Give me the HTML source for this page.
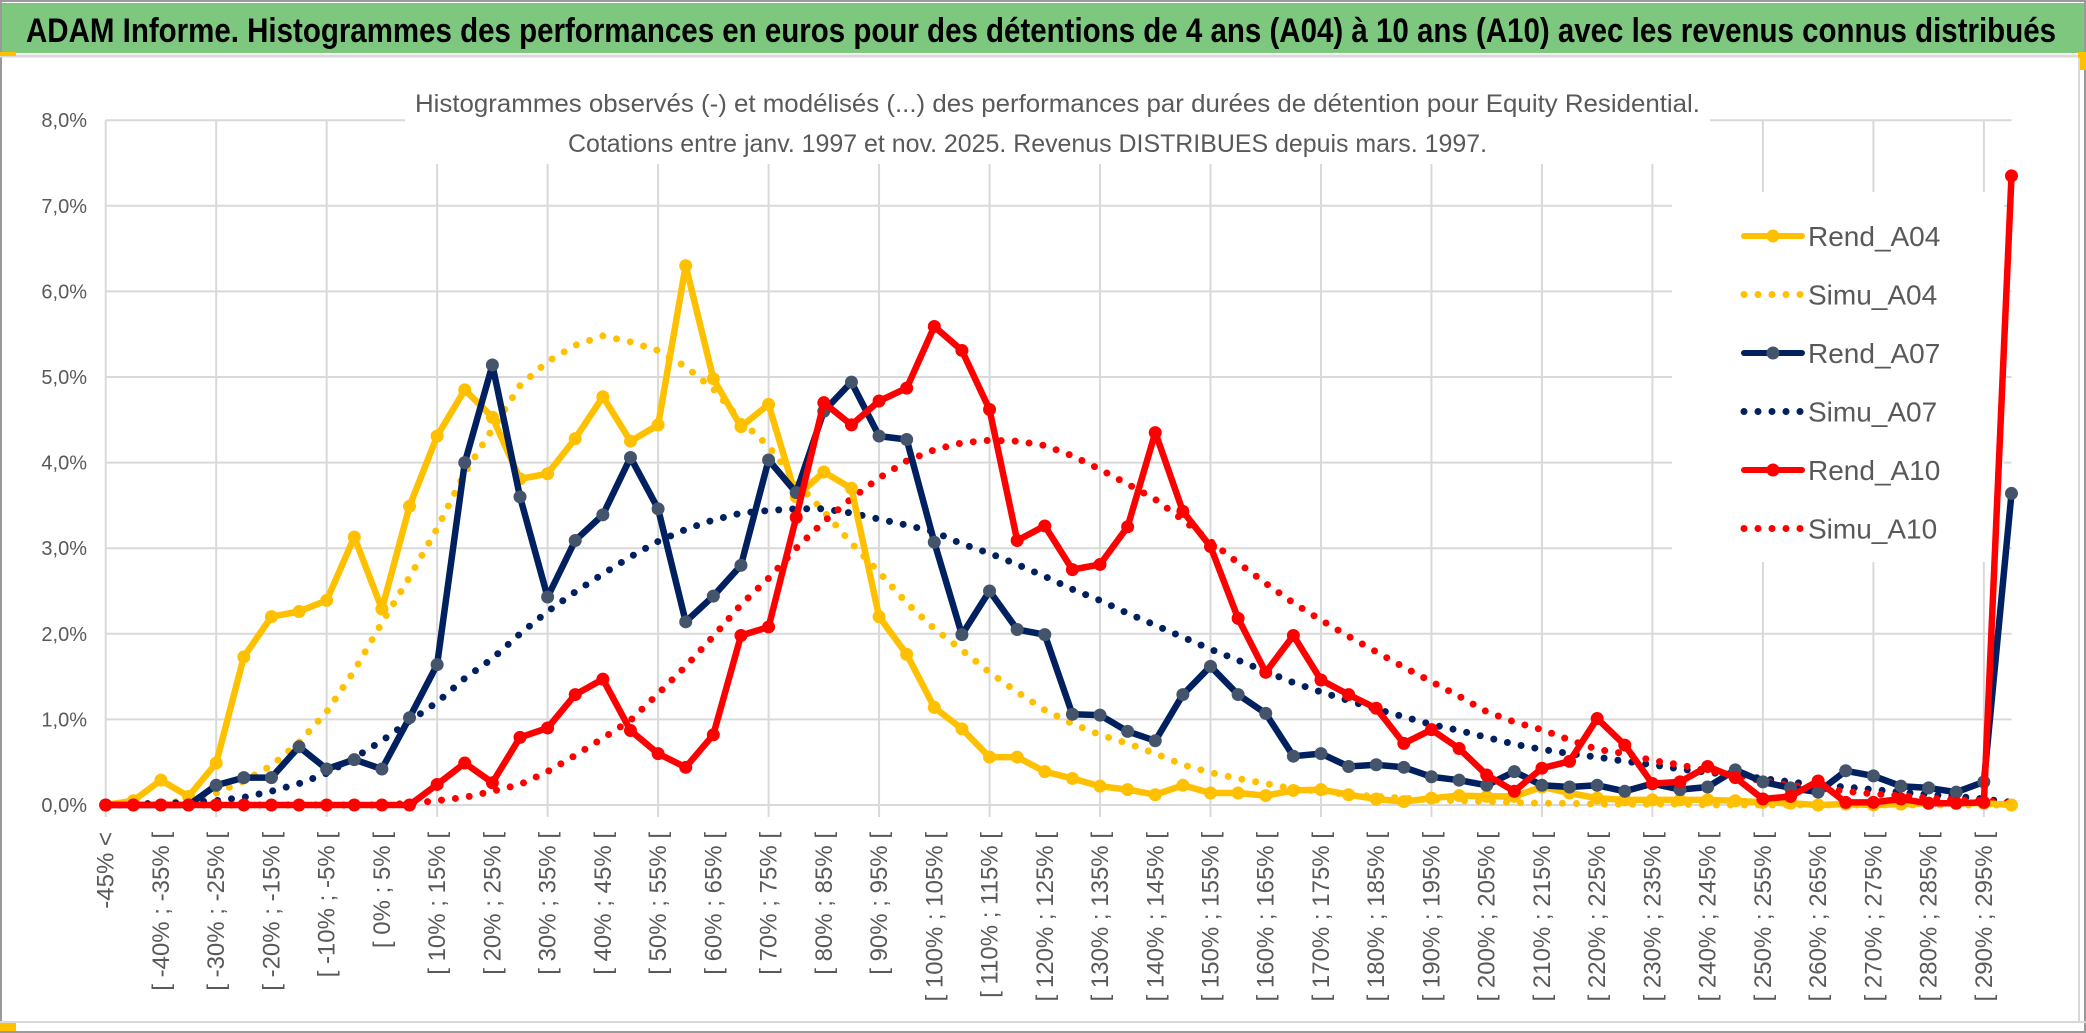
<!DOCTYPE html>
<html><head><meta charset="utf-8"><style>
html,body{margin:0;padding:0;background:#fff;}
svg{display:block;font-family:"Liberation Sans",sans-serif;}
</style></head><body>
<svg id="chart" width="2086" height="1033" viewBox="0 0 2086 1033" xmlns="http://www.w3.org/2000/svg">
<rect x="0" y="0" width="2086" height="1033" fill="#fff"/>
<rect x="1" y="1" width="2084" height="1031" fill="none" stroke="#9a9a9a" stroke-width="2"/>
<rect x="2" y="3" width="2082" height="50" fill="#7DC77F"/>
<line x1="0" y1="56" x2="2086" y2="56" stroke="#d9d9d9" stroke-width="3"/>
<rect x="0" y="52" width="16" height="4" fill="#FFC000"/>
<rect x="2078" y="52" width="8" height="18" fill="#FFC000"/>
<line x1="0" y1="1022" x2="2086" y2="1022" stroke="#d9d9d9" stroke-width="2"/>
<rect x="0" y="1023" width="16" height="8" fill="#FFC000"/>
<line x1="2079" y1="58" x2="2079" y2="1022" stroke="#d9d9d9" stroke-width="2"/>
<text x="26" y="42" font-size="34" font-weight="bold" fill="#000" textLength="2030" lengthAdjust="spacingAndGlyphs">ADAM Informe. Histogrammes des performances en euros pour des détentions de 4 ans (A04) à 10 ans (A10) avec les revenus connus distribués</text>
<g id="grid"></g>
<rect x="405" y="82" width="1305" height="82" fill="#fff"/>
<text x="415" y="112" font-size="25" fill="#595959" textLength="1285" lengthAdjust="spacingAndGlyphs">Histogrammes observés (-) et modélisés (...) des performances par durées de détention pour Equity Residential.</text>
<text x="568" y="152" font-size="25" fill="#595959" textLength="919" lengthAdjust="spacingAndGlyphs">Cotations entre janv. 1997 et nov. 2025. Revenus DISTRIBUES depuis mars. 1997.</text>
<g id="yaxis"></g>
<g id="xaxis"></g>
<rect x="1672" y="192" width="332" height="370" fill="#fff"/>
<g id="series"></g>
<g id="legend"></g>
</svg>
<script>
const rendA04=[0,0.05,0.29,0.1,0.49,1.73,2.2,2.26,2.39,3.13,2.29,3.49,4.31,4.85,4.53,3.81,3.87,4.28,4.77,4.25,4.44,6.3,4.98,4.42,4.68,3.6,3.89,3.7,2.2,1.76,1.14,0.89,0.56,0.56,0.39,0.31,0.22,0.18,0.12,0.23,0.14,0.14,0.11,0.17,0.18,0.12,0.07,0.04,0.08,0.11,0.1,0.1,0.21,0.14,0.08,0.06,0.06,0.06,0.06,0.05,0.03,0.02,0,0.01,0,0.01,0.02,0.02,0.02,0];
const simuA04=[0,0.01,0.02,0.05,0.14,0.28,0.46,0.73,1.09,1.57,2.13,2.66,3.23,3.88,4.39,4.9,5.18,5.37,5.48,5.41,5.31,5.12,4.86,4.49,4.19,3.77,3.43,3.06,2.72,2.36,2.06,1.81,1.55,1.32,1.11,0.95,0.82,0.72,0.6,0.47,0.38,0.31,0.25,0.19,0.16,0.12,0.1,0.08,0.06,0.05,0.04,0.03,0.02,0.02,0.01,0.01,0.01,0.01,0,0,0,0,0,0,0,0,0,0,0,0];
const rendA07=[0,0,0,0,0.23,0.32,0.32,0.68,0.42,0.53,0.42,1.02,1.64,4.0,5.14,3.6,2.43,3.09,3.39,4.06,3.46,2.14,2.44,2.8,4.03,3.65,4.6,4.94,4.31,4.27,3.07,1.99,2.5,2.05,1.99,1.06,1.05,0.86,0.75,1.29,1.62,1.29,1.07,0.57,0.6,0.45,0.47,0.44,0.33,0.29,0.23,0.39,0.23,0.21,0.23,0.16,0.25,0.18,0.21,0.41,0.27,0.2,0.15,0.4,0.34,0.22,0.2,0.15,0.27,3.64];
const simuA07=[0,0.01,0.02,0.03,0.05,0.09,0.16,0.25,0.37,0.55,0.75,0.98,1.2,1.48,1.71,2.0,2.26,2.49,2.7,2.9,3.08,3.22,3.33,3.41,3.44,3.46,3.46,3.41,3.34,3.27,3.19,3.05,2.94,2.81,2.67,2.52,2.39,2.24,2.1,1.96,1.82,1.69,1.56,1.43,1.32,1.22,1.12,1.03,0.94,0.87,0.79,0.71,0.65,0.6,0.56,0.51,0.47,0.42,0.38,0.35,0.31,0.27,0.23,0.21,0.18,0.15,0.12,0.1,0.07,0.03];
const rendA10=[0,0,0,0,0,0,0,0,0,0,0,0,0.24,0.49,0.26,0.79,0.9,1.29,1.47,0.87,0.6,0.44,0.82,1.98,2.08,3.36,4.7,4.44,4.72,4.87,5.59,5.31,4.62,3.09,3.26,2.75,2.81,3.25,4.35,3.43,3.02,2.18,1.55,1.98,1.46,1.29,1.13,0.72,0.88,0.66,0.35,0.16,0.43,0.51,1.01,0.7,0.25,0.27,0.45,0.32,0.07,0.1,0.28,0.03,0.03,0.07,0.02,0.02,0.03,7.35];
const simuA10=[0,0,0,0,0,0,0,0,0,0,0,0.02,0.05,0.09,0.16,0.24,0.39,0.58,0.78,0.99,1.3,1.62,1.97,2.34,2.65,3.0,3.31,3.58,3.82,4.02,4.15,4.23,4.26,4.25,4.2,4.08,3.92,3.75,3.57,3.33,3.08,2.83,2.59,2.36,2.16,1.97,1.79,1.61,1.44,1.27,1.09,0.97,0.88,0.76,0.65,0.6,0.52,0.47,0.4,0.35,0.28,0.23,0.2,0.16,0.13,0.11,0.08,0.06,0.05,0.02];
const yTicks=[0,1,2,3,4,5,6,7,8];
const yTickLabels=["0,0%","1,0%","2,0%","3,0%","4,0%","5,0%","6,0%","7,0%","8,0%"];
const legendNames=["Rend_A04","Simu_A04","Rend_A07","Simu_A07","Rend_A10","Simu_A10"];

const N=70;
function cat(i){ if(i===0) return "-45% <"; const a=-45+5*(i-1); return "[ "+a+"% ; "+(a+5)+"% ["; }
const X0=105.7, DX=27.62, Y0=805, DY=85.6;
const xs=i=>X0+i*DX, ys=v=>Y0-v*DY;
const NS="http://www.w3.org/2000/svg";
function mk(tag,attrs,parent){const e=document.createElementNS(NS,tag);for(const k in attrs)e.setAttribute(k,attrs[k]);parent.appendChild(e);return e;}
const grid=document.getElementById('grid'), yax=document.getElementById('yaxis'), xax=document.getElementById('xaxis'), ser=document.getElementById('series'), leg=document.getElementById('legend');
yTicks.forEach((t,k)=>{
  const l=mk('line',{x1:xs(0),x2:xs(N-1),y1:ys(t),y2:ys(t),stroke:'#d9d9d9','stroke-width':2},grid);
  
  
  const tx=mk('text',{x:87,y:ys(t)+7,'text-anchor':'end','font-size':20,fill:'#595959'},yax);
  
  
  tx.textContent=yTickLabels[k];
});
for(let i=0;i<N;i+=4){
  const l=mk('line',{x1:xs(i),x2:xs(i),y1:ys(8),y2:ys(0)+12,stroke:'#d9d9d9','stroke-width':2},grid);
  
  
}
for(let i=0;i<N;i+=2){
  const x=xs(i)+8, y=832;
  const tx=mk('text',{x:x,y:y,transform:'rotate(-90 '+x+' '+y+')','text-anchor':'end','font-size':24,fill:'#595959'},xax);
  
  
  tx.textContent=cat(i);
}
function pts(arr){return arr.map((v,i)=>xs(i).toFixed(1)+','+ys(v).toFixed(1)).join(' ');}
function dotted(arr,color,name){
  const p=mk('polyline',{points:pts(arr),fill:'none',stroke:color,'stroke-width':7,'stroke-linecap':'round','stroke-dasharray':'0 14'},ser);
  
  
}
function solid(arr,color,mcolor,name){
  const g=mk('g',{},ser);
  
  
  mk('polyline',{points:pts(arr),fill:'none',stroke:color,'stroke-width':6.5,'stroke-linejoin':'round'},g);
  arr.forEach((v,i)=>{
    const c=mk('circle',{cx:xs(i),cy:ys(v),r:6.5,fill:mcolor},g);
    
    
  });
}
dotted(simuA04,'#FFC000','simu-a04-line');
dotted(simuA07,'#002060','simu-a07-line');
dotted(simuA10,'#FF0000','simu-a10-line');
solid(rendA04,'#FFC000','#FFC000','rend-a04-line');
solid(rendA07,'#002060','#44546A','rend-a07-line');
solid(rendA10,'#FF0000','#FF0000','rend-a10-line');
const lc=['#FFC000','#FFC000','#002060','#002060','#FF0000','#FF0000'];
const lm=['#FFC000',null,'#44546A',null,'#FF0000',null];
legendNames.forEach((n,k)=>{
  const y=236+k*58.5;
  const g=mk('g',{},leg);
  
  
  if(lm[k]){
    mk('line',{x1:1744,x2:1802,y1:y,y2:y,stroke:lc[k],'stroke-width':6,'stroke-linecap':'round'},g);
    mk('circle',{cx:1773,cy:y,r:6.5,fill:lm[k]},g);
  } else {
    mk('line',{x1:1744,x2:1802,y1:y,y2:y,stroke:lc[k],'stroke-width':7,'stroke-linecap':'round','stroke-dasharray':'0 14'},g);
  }
  const t=mk('text',{x:1808,y:y+10,'font-size':28,fill:'#595959'},g);
  t.textContent=n;
});
</script>
</body></html>
